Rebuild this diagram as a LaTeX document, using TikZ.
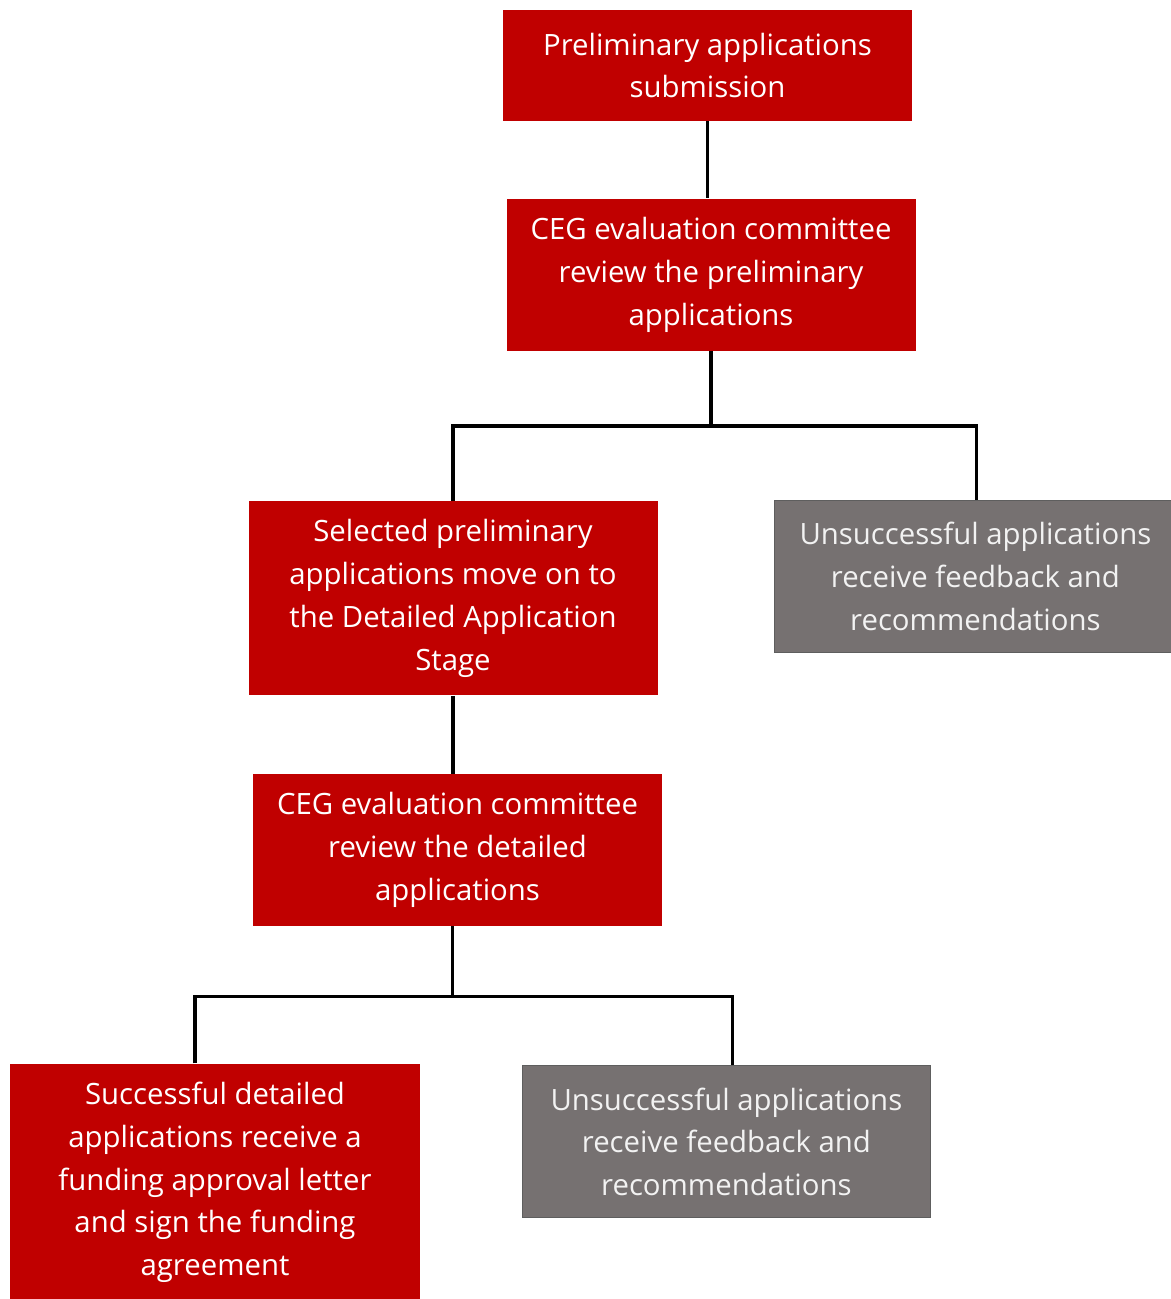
\documentclass[tikz,border=0pt]{standalone}
\usepackage{fontspec}
\setmainfont{Open Sans}
\usepackage{tikz}
\usetikzlibrary{positioning, calc}

\definecolor{stepred}{HTML}{C00000}
\definecolor{stepgray}{HTML}{767171}
\definecolor{stepedge}{HTML}{5E5E5E}

\begin{document}
\begin{tikzpicture}[
    redbox/.style={rectangle, fill=stepred, text=white, align=center, minimum width=8.18cm, inner sep=0pt, font=\fontsize{16.7}{24.4}\selectfont},
    graybox/.style={rectangle, fill=stepgray, draw=stepedge, line width=0.6pt, text=white!95!black, align=center, minimum width=7.94cm, inner sep=0pt, font=\fontsize{16.7}{24.4}\selectfont},
    link/.style={line width=2pt}
  ]
  \useasboundingbox (0,0) rectangle (23.4,-25.98);

  \node (prelim) [redbox, minimum height=2.22cm] at (14.15,-1.31) {Preliminary applications\\submission};
  \node (review_prelim) [redbox, minimum height=3.04cm, below=1.54cm of prelim, xshift=0.07cm] {CEG evaluation committee\\review the preliminary\\applications};
  \node (selected) [redbox, minimum height=3.88cm, below=3.0cm of review_prelim, xshift=-5.16cm] {Selected preliminary\\applications move on to\\the Detailed Application\\Stage};
  \node (unsucc_prelim) [graybox, minimum height=3.04cm, right=2.32cm of selected, yshift=0.44cm] {\hspace*{0.1cm}Unsuccessful applications\\\hspace*{0.1cm}receive feedback and\\\hspace*{0.1cm}recommendations};
  \node (review_detail) [redbox, minimum height=3.04cm, below=1.56cm of selected, xshift=0.09cm] {CEG evaluation committee\\review the detailed\\applications};
  \node (successful) [redbox, minimum height=4.74cm, below=2.74cm of review_detail, xshift=-4.85cm] {Successful detailed\\applications receive a\\funding approval letter\\and sign the funding\\agreement};
  \node (unsucc_detail) [graybox, minimum width=8.16cm, minimum height=3.04cm, right=2.04cm of successful, yshift=0.81cm] {Unsuccessful applications\\receive feedback and\\recommendations};

  % connectors
  \draw[link] (prelim.south) -- (prelim.south |- review_prelim.north);
  \coordinate (split1) at ($(review_prelim.south)+(0,-1.5)$);
  \draw[link] (review_prelim.south) -- (split1);
  \draw[link] (selected.north) |- (split1) -| ($(unsucc_prelim.north)+(0.07,0)$);

  \draw[link] (selected.south) -- (selected.south |- review_detail.north);
  \coordinate (split2) at ($(review_detail.south)+(-0.1,-1.4)$);
  \draw[link] ($(review_detail.south)+(-0.1,0)$) -- (split2);
  \draw[link] ($(successful.north)+(-0.4,0)$) |- (split2) -| ($(unsucc_detail.north)+(0.12,0)$);
\end{tikzpicture}
\end{document}
